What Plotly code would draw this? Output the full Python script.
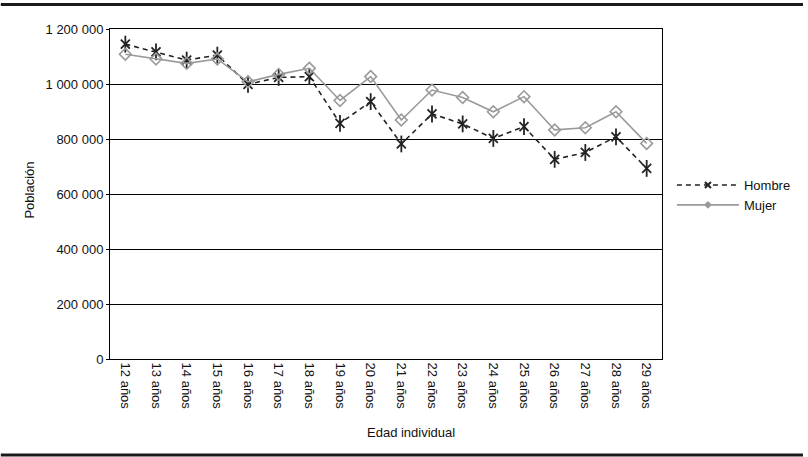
import plotly.graph_objects as go

categorias = ["12 años", "13 años", "14 años", "15 años", "16 años", "17 años",
              "18 años", "19 años", "20 años", "21 años", "22 años", "23 años",
              "24 años", "25 años", "26 años", "27 años", "28 años", "29 años"]
hombre = [1145000, 1117000, 1087000, 1105000, 999000, 1024000, 1027000, 857000,
          936000, 782000, 891000, 855000, 802000, 845000, 726000, 751000, 808000, 693000]
mujer = [1108000, 1091000, 1075000, 1091000, 1008000, 1035000, 1057000, 940000,
         1027000, 869000, 978000, 951000, 899000, 954000, 833000, 841000, 899000, 784000]
y_ticks = [0, 200000, 400000, 600000, 800000, 1000000, 1200000]

W, H = 808, 457
L, R, T, B = 110, 666, 29, 359

def px_x(p):
    return (p - L) / (R - L)

def px_y(p):
    return (B - p) / (B - T)

FONT = "Liberation Sans, Arial, sans-serif"
DARK = "#222222"
GRAY = "#9a9a9a"

fig = go.Figure()
# Hombre: dashed line with X arms
fig.add_trace(go.Scatter(
    x=categorias, y=hombre, name="Hombre", mode="lines+markers", showlegend=False,
    line=dict(color=DARK, width=1.6, dash="5px,4px"),
    marker=dict(symbol="x-thin-open", size=9, color=DARK,
                line=dict(color=DARK, width=1.8)),
))
# Hombre: vertical arm of the asterisk
fig.add_trace(go.Scatter(
    x=categorias, y=hombre, mode="markers", showlegend=False, hoverinfo="skip",
    marker=dict(symbol="line-ns-open", size=12, color=DARK,
                line=dict(color=DARK, width=1.8)),
))
fig.add_trace(go.Scatter(
    x=categorias, y=mujer, name="Mujer", mode="lines+markers", showlegend=False,
    line=dict(color=GRAY, width=1.6),
    marker=dict(symbol="diamond-open", size=9, color=GRAY,
                line=dict(color=GRAY, width=1.6)),
))
# legend entries with small markers
fig.add_trace(go.Scatter(
    x=[None], y=[None], name="Hombre", mode="lines+markers",
    line=dict(color=DARK, width=1.6, dash="5px,4px"),
    marker=dict(symbol="x-thin-open", size=6, color=DARK,
                line=dict(color=DARK, width=2)),
))
fig.add_trace(go.Scatter(
    x=[None], y=[None], name="Mujer", mode="lines+markers",
    line=dict(color=GRAY, width=1.6),
    marker=dict(symbol="diamond", size=6, color=GRAY),
))

fig.update_layout(
    width=W, height=H,
    margin=dict(l=L, r=W - R, t=T, b=H - B, pad=0),
    paper_bgcolor="white", plot_bgcolor="white",
    font=dict(family=FONT, size=13, color="#111111"),
    separators=". ",
    showlegend=True,
    legend=dict(x=px_x(676), y=px_y(170), xanchor="left", yanchor="top",
                bgcolor="rgba(0,0,0,0)", itemwidth=62,
                font=dict(size=13), tracegroupgap=0),
    xaxis=dict(
        type="category", tickangle=90, showgrid=False, showline=True,
        linecolor="black", linewidth=1, mirror=True, ticks="",
        tickfont=dict(size=13), range=[-0.5, len(categorias) - 0.5],
    ),
    yaxis=dict(
        range=[0, 1200000], tickvals=y_ticks, tickformat=",d",
        showgrid=True, gridcolor="black", gridwidth=1,
        showline=True, linecolor="black", linewidth=1, mirror=True,
        ticks="outside", ticklen=3, tickcolor="black",
        zeroline=False, tickfont=dict(size=13),
    ),
    annotations=[
        dict(text="Población", x=px_x(28), y=px_y(190), xref="paper", yref="paper",
             xanchor="center", yanchor="middle",
             textangle=-90, showarrow=False, font=dict(size=13)),
        dict(text="Edad individual", x=px_x(413), y=px_y(432), xref="paper", yref="paper",
             xanchor="center", yanchor="middle",
             showarrow=False, font=dict(size=13)),
    ],
    shapes=[
        dict(type="line", xref="paper", yref="paper", x0=px_x(0), x1=px_x(W),
             y0=px_y(4.5), y1=px_y(4.5), line=dict(color="#1a1a1a", width=3)),
        dict(type="line", xref="paper", yref="paper", x0=px_x(0), x1=px_x(W),
             y0=px_y(455), y1=px_y(455), line=dict(color="#1a1a1a", width=3)),
    ],
)

html = fig.to_html(include_plotlyjs=True, full_html=True,
                   config={"displayModeBar": False})
html = html.replace("<head>", "<head><style>html,body{margin:0;padding:0;overflow:hidden;}</style>", 1)
with open("out.html", "w", encoding="utf-8") as f:
    f.write(html)
